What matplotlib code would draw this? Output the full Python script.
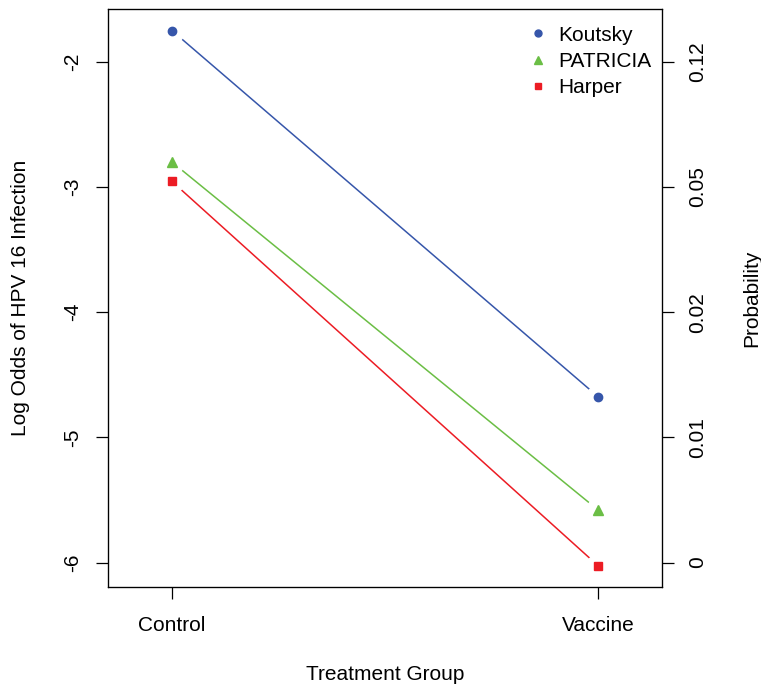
import numpy as np
import matplotlib
matplotlib.use('Agg')
import matplotlib.pyplot as plt
from matplotlib.lines import Line2D

plt.rcParams['font.family'] = ['Liberation Sans', 'DejaVu Sans']

# data
groups = ['Control', 'Vaccine']
studies = ['Koutsky', 'PATRICIA', 'Harper']
koutsky = [-1.75, -4.675]
patricia = [-2.80, -5.58]
harper = [-2.955, -6.025]
left_ticks = [-6, -5, -4, -3, -2]
right_labels = ['0', '0.01', '0.02', '0.05', '0.12']

colors = ['#3656AA', '#6BBE45', '#EC1C24']
markers = ['o', '^', 's']
msizes = [6.0, 7.0, 6.0]

fs = 15
fig = plt.figure(figsize=(7.61, 6.88), dpi=100)
ax = fig.add_axes([108 / 761, 1 - 587 / 688, 554 / 761, 578 / 688])

x = np.arange(1, len(groups) + 1)
series = [koutsky, patricia, harper]
for vals, c in zip(series, colors):
    ax.plot(x, vals, color=c, lw=1.1, zorder=1)
for vals in series:
    # white disc leaves a gap between line and point (R type="b")
    ax.plot(x, vals, ls='none', marker='o', ms=17, mfc='white', mec='white', zorder=2)
for vals, c, m, s in zip(series, colors, markers, msizes):
    ax.plot(x, vals, ls='none', marker=m, ms=s, mfc=c, mec=c, zorder=3)

ax.set_xlim(0.85, 2.15)
ax.set_ylim(-6.195, -1.578)
ax.set_xticks(x)
ax.set_xticklabels(groups, fontsize=fs)
ax.set_yticks(left_ticks)
ax.set_yticklabels([str(t) for t in left_ticks], fontsize=fs, rotation=90, va='center')
ax.tick_params(direction='out', length=8.6, width=0.9)
ax.tick_params(axis='x', pad=12)
ax.tick_params(axis='y', pad=10)
ax.set_xlabel('Treatment Group', fontsize=fs)
ax.xaxis.set_label_coords(0.5, -0.135)
ax.set_ylabel('Log Odds of HPV 16 Infection', fontsize=fs)
ax.yaxis.set_label_coords(-0.14, 0.5)
for sp in ax.spines.values():
    sp.set_linewidth(0.9)

ax2 = ax.twinx()
ax2.set_ylim(ax.get_ylim())
ax2.set_yticks(left_ticks)
ax2.set_yticklabels(right_labels, fontsize=fs, rotation=90, va='center')
ax2.tick_params(direction='out', length=8.6, width=0.9, pad=10)
ax2.set_ylabel('Probability', fontsize=fs)
ax2.yaxis.set_label_coords(1.145, 0.5)

handles = [Line2D([], [], ls='none', marker=m, ms=s - 1, mfc=c, mec=c)
           for m, s, c in zip(markers, msizes, colors)]
ax.legend(handles, studies, loc='upper right', frameon=False, fontsize=fs,
          handlelength=0.6, handletextpad=0.65, labelspacing=0.35,
          borderaxespad=0.12, bbox_to_anchor=(1.0, 0.99))

fig.savefig('out.png', dpi=100)
